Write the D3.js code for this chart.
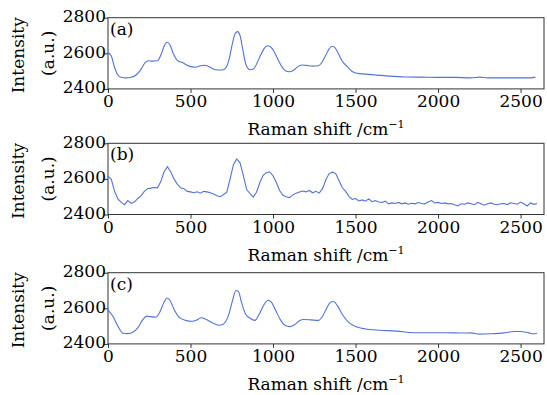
<!DOCTYPE html>
<html>
<head>
<meta charset="utf-8">
<script src="https://cdn.jsdelivr.net/npm/d3@7"></script>
<style>
  body { margin: 0; background: #fff; }
  svg { display: block; }
  text { font-family: "DejaVu Serif", serif; fill: #000; }
</style>
</head>
<body>
<div class="chart"></div>
<script>
// ---- data ----
const panelNames = ["(a)", "(b)", "(c)"];
const xTicks = [0, 500, 1000, 1500, 2000, 2500];
const yTicks = [2400, 2600, 2800];

const shiftA = [0, 20, 40, 60, 80, 110, 140, 170, 200, 225, 245, 270, 300, 320, 340, 358, 375, 395, 420, 450, 490, 530, 560, 585, 610, 650, 690, 715, 735, 755, 770, 785, 800, 815, 835, 860, 885, 905, 925, 945, 965, 980, 1000, 1025, 1050, 1075, 1100, 1125, 1150, 1175, 1200, 1240, 1275, 1300, 1320, 1340, 1360, 1375, 1395, 1420, 1450, 1480, 1510, 1560, 1620, 1700, 1800, 1900, 2000, 2100, 2200, 2250, 2300, 2400, 2500, 2560, 2590];
const intensityA = [2605, 2585, 2520, 2478, 2465, 2462, 2465, 2478, 2510, 2548, 2558, 2556, 2558, 2590, 2640, 2662, 2648, 2600, 2560, 2548, 2528, 2522, 2530, 2533, 2526, 2508, 2506, 2520, 2570, 2660, 2710, 2722, 2700, 2630, 2540, 2508, 2515, 2550, 2590, 2625, 2642, 2640, 2620, 2575, 2530, 2502, 2496, 2505, 2525, 2534, 2532, 2528, 2530, 2555, 2590, 2625, 2640, 2632, 2600, 2555, 2525, 2498, 2488, 2483, 2478, 2472, 2467, 2466, 2465, 2465, 2462, 2466, 2462, 2462, 2462, 2462, 2466];

const shiftB = [0, 20, 40, 60, 80, 100, 120, 140, 160, 180, 200, 220, 240, 260, 280, 300, 320, 340, 360, 380, 400, 420, 440, 460, 480, 500, 520, 540, 560, 580, 600, 620, 640, 660, 680, 700, 720, 740, 760, 780, 800, 820, 840, 860, 880, 900, 920, 940, 960, 980, 1000, 1020, 1040, 1060, 1080, 1100, 1120, 1140, 1160, 1180, 1200, 1220, 1240, 1260, 1280, 1300, 1320, 1340, 1360, 1380, 1400, 1420, 1440, 1460, 1480, 1500, 1520, 1540, 1560, 1580, 1600, 1620, 1640, 1660, 1680, 1700, 1720, 1740, 1760, 1780, 1800, 1820, 1840, 1860, 1880, 1900, 1920, 1940, 1960, 1980, 2000, 2020, 2040, 2060, 2080, 2100, 2120, 2140, 2160, 2180, 2200, 2220, 2240, 2260, 2280, 2300, 2320, 2340, 2360, 2380, 2400, 2420, 2440, 2460, 2480, 2500, 2520, 2540, 2560, 2580, 2600];
const intensityB = [2615, 2598, 2530, 2488, 2468, 2455, 2478, 2462, 2470, 2490, 2505, 2530, 2545, 2548, 2552, 2550, 2585, 2640, 2668, 2640, 2600, 2570, 2550, 2545, 2530, 2527, 2522, 2528, 2520, 2530, 2527, 2522, 2515, 2505, 2500, 2512, 2525, 2600, 2680, 2712, 2690, 2620, 2540, 2518, 2498, 2525, 2580, 2620, 2635, 2640, 2618, 2580, 2535, 2508, 2500, 2495, 2510, 2520, 2526, 2532, 2527, 2535, 2522, 2530, 2520, 2545, 2595, 2630, 2638, 2630, 2590, 2550, 2530, 2502, 2485, 2490, 2476, 2482, 2475, 2488, 2472, 2478, 2470, 2468, 2475, 2460, 2465, 2462, 2468, 2460, 2465, 2458, 2463, 2460, 2467, 2462, 2460, 2470, 2478, 2465, 2468, 2462, 2465, 2460, 2462, 2455, 2448, 2460, 2458, 2465, 2460, 2455, 2468, 2460, 2452, 2460, 2465, 2458, 2455, 2460, 2462, 2456, 2466, 2462, 2458, 2470, 2460, 2448, 2465, 2457, 2462];

const shiftC = [0, 30, 60, 90, 120, 150, 180, 210, 235, 260, 290, 315, 340, 358, 375, 400, 430, 470, 510, 540, 565, 590, 630, 670, 700, 730, 755, 775, 790, 810, 835, 860, 890, 915, 945, 970, 990, 1015, 1045, 1075, 1100, 1130, 1160, 1185, 1230, 1275, 1300, 1325, 1350, 1368, 1390, 1420, 1460, 1510, 1560, 1650, 1750, 1850, 1950, 2050, 2150, 2200, 2250, 2320, 2400, 2460, 2500, 2550, 2580, 2600];
const intensityC = [2590, 2555, 2500, 2460, 2458, 2465, 2490, 2535, 2556, 2553, 2550, 2580, 2635, 2658, 2645, 2595, 2550, 2532, 2527, 2535, 2547, 2540, 2520, 2505, 2512, 2560, 2645, 2700, 2695, 2630, 2565, 2545, 2532, 2565, 2620, 2645, 2635, 2590, 2535, 2503, 2497, 2508, 2530, 2537, 2535, 2532, 2555, 2600, 2635, 2638, 2615, 2565, 2520, 2495, 2484, 2477, 2472, 2463, 2463, 2463, 2461, 2462, 2455, 2457, 2462, 2470, 2470, 2462, 2457, 2460];

const series = [
  {shift: shiftA, val: intensityA, curve: d3.curveMonotoneX},
  {shift: shiftB, val: intensityB, curve: d3.curveLinear},
  {shift: shiftC, val: intensityC, curve: d3.curveMonotoneX}
];

// ---- layout ----
const w = 547, h = 395;
const left = 108, right = 544;
const panelTop = [17.7, 143.3, 272.7];
const panelH = 71.2;
const lineColor = "#5272da";
const fs = "17px";

const svg = d3.select(".chart").append("svg")
  .attr("width", w)
  .attr("height", h);

const xScale = d3.scaleLinear()
  .domain([0, 2642])
  .range([left, right]);

series.forEach((s, i) => {
  const top = panelTop[i];
  const bottom = top + panelH;
  const yScale = d3.scaleLinear()
    .domain([2400, 2800])
    .range([bottom, top]);

  const g = svg.append("g").attr("class", "panel");

  // axes
  const xAxis = d3.axisBottom(xScale).tickValues(xTicks).tickFormat(d3.format("d"))
    .tickSize(4).tickPadding(2).tickSizeOuter(0);
  const yAxis = d3.axisLeft(yScale).tickValues(yTicks).tickFormat(d3.format("d"))
    .tickSize(4).tickPadding(0).tickSizeOuter(0);

  const gx = g.append("g")
    .attr("transform", "translate(0," + bottom + ")")
    .call(xAxis);
  const gy = g.append("g")
    .attr("transform", "translate(" + left + ",0)")
    .call(yAxis);

  [gx, gy].forEach(a => {
    a.select(".domain").remove();
    a.selectAll("line").attr("stroke", "#333");
    a.selectAll("text").style("font-size", fs).attr("fill", "#000");
  });
  gy.selectAll("text").attr("x", -2).attr("dy", "0.22em");

  // box
  g.append("rect")
    .attr("x", left)
    .attr("y", top)
    .attr("width", right - left)
    .attr("height", panelH)
    .attr("fill", "none")
    .attr("stroke", "#333")
    .attr("stroke-width", 1);

  // spectrum
  const line = d3.line()
    .x((d, j) => xScale(s.shift[j]))
    .y(d => yScale(d))
    .curve(s.curve);
  g.append("path")
    .datum(s.val)
    .attr("d", line)
    .attr("fill", "none")
    .attr("stroke", lineColor)
    .attr("stroke-width", 1.1);

  // panel letter
  g.append("text")
    .attr("x", left + 2)
    .attr("y", top + 17)
    .style("font-size", fs)
    .text(panelNames[i]);

  // y label
  const mid = (top + bottom) / 2;
  g.append("text")
    .attr("transform", "translate(24," + (mid + 2) + ") rotate(-90)")
    .attr("text-anchor", "middle")
    .style("font-size", fs)
    .text("Intensity");
  g.append("text")
    .attr("transform", "translate(54," + mid + ") rotate(-90)")
    .attr("text-anchor", "middle")
    .style("font-size", fs)
    .text("(a.u.)");

  // x label
  const xl = g.append("text")
    .attr("x", (left + right) / 2)
    .attr("y", bottom + 46)
    .attr("text-anchor", "middle")
    .style("font-size", fs);
  xl.append("tspan").text("Raman shift /cm");
  xl.append("tspan")
    .attr("dy", -7)
    .style("font-size", "11px")
    .text("\u22121");
});
</script>
</body>
</html>
